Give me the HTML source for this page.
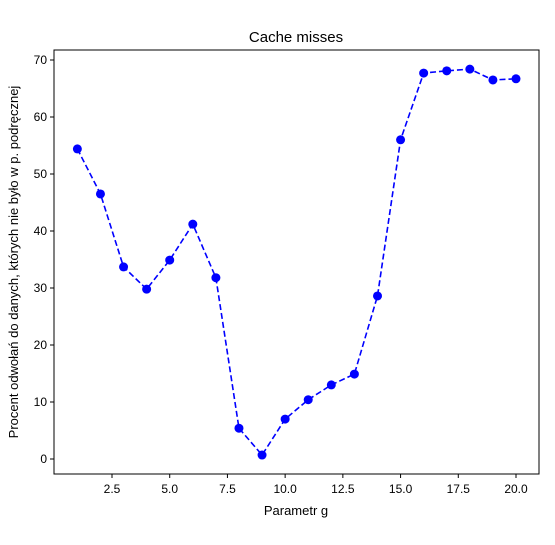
<!DOCTYPE html>
<html><head><meta charset="utf-8">
<style>
body{margin:0;background:#fff;}
svg{font-family:"Liberation Sans","DejaVu Sans",sans-serif;}
</style></head>
<body>
<svg id="chart" width="555" height="540" xmlns="http://www.w3.org/2000/svg">
<rect width="555" height="540" fill="#fff"/>
<text x="296" y="42" text-anchor="middle" font-size="15">Cache misses</text>
<text x="296" y="515" text-anchor="middle" font-size="13">Parametr g</text>
<text transform="translate(18,262) rotate(-90)" text-anchor="middle" font-size="13">Procent odwołań do danych, których nie było w p. podręcznej</text>
<g id="axes"></g>
<g id="marks"></g>
<rect x="54" y="50" width="485" height="424" fill="none" stroke="#000" stroke-width="1"/>
</svg>
<script>
const xs = [1,2,3,4,5,6,7,8,9,10,11,12,13,14,15,16,17,18,19,20];
const ys = [54.4,46.5,33.7,29.8,34.9,41.2,31.8,5.4,0.7,7.0,10.4,13.0,14.9,28.6,56.0,67.7,68.1,68.4,66.5,66.7];
const xTicks = [2.5,5.0,7.5,10.0,12.5,15.0,17.5,20.0];
const yTicks = [0,10,20,30,40,50,60,70];

const NS="http://www.w3.org/2000/svg";
const X = v => 112 + (v-2.5)*(516-112)/17.5;
const Y = v => 459 - v*(459-60)/70;
const axes=document.getElementById('axes'), marks=document.getElementById('marks');
function mk(tag,attrs,parent){const e=document.createElementNS(NS,tag);for(const k in attrs)e.setAttribute(k,attrs[k]);parent.appendChild(e);return e;}

xTicks.forEach(t=>{
  const g=mk('g',{},axes);
  
  
  mk('line',{x1:X(t),x2:X(t),y1:474,y2:478,stroke:'#000'},g);
  const tx=mk('text',{x:X(t),y:493,'text-anchor':'middle','font-size':'12'},g);
  tx.textContent=t.toFixed(1);
});
yTicks.forEach(t=>{
  const g=mk('g',{},axes);
  
  
  mk('line',{x1:50,x2:54,y1:Y(t),y2:Y(t),stroke:'#000'},g);
  const tx=mk('text',{x:47,y:Y(t)+4,'text-anchor':'end','font-size':'12'},g);
  tx.textContent=t;
});
const pts=xs.map((x,i)=>X(x)+','+Y(ys[i])).join(' ');
const line=mk('polyline',{points:pts,fill:'none',stroke:'#0000ff','stroke-width':1.6,'stroke-dasharray':'6,3'},marks);


xs.forEach((x,i)=>{
  const c=mk('circle',{cx:X(x),cy:Y(ys[i]),r:4.5,fill:'#0000ff'},marks);
  
  
});
</script>
</body></html>
